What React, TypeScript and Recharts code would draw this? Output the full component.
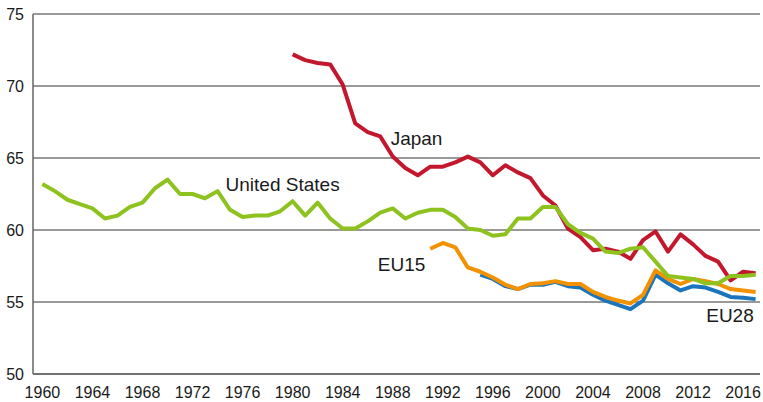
import React from 'react';
import { LineChart, Line, XAxis, YAxis, CartesianGrid, ReferenceDot } from 'recharts';

const years: number[] = [];
for (let y = 1960; y <= 2017; y++) years.push(y);

const usValues = [
  63.2, 62.7, 62.1, 61.8, 61.5, 60.8, 61.0, 61.6, 61.9, 62.9,
  63.5, 62.5, 62.5, 62.2, 62.7, 61.4, 60.9, 61.0, 61.0, 61.3,
  62.0, 61.0, 61.9, 60.8, 60.1, 60.1, 60.6, 61.2, 61.5, 60.8,
  61.2, 61.4, 61.4, 60.9, 60.1, 60.0, 59.6, 59.7, 60.8, 60.8,
  61.6, 61.6, 60.4, 59.8, 59.4, 58.5, 58.4, 58.7, 58.8, 57.8,
  56.8, 56.7, 56.6, 56.3, 56.3, 56.8, 56.8, 56.9,
];
const japanStart = 1980;
const japanValues = [
  72.2, 71.8, 71.6, 71.5, 70.1, 67.4, 66.8, 66.5, 65.1, 64.3,
  63.8, 64.4, 64.4, 64.7, 65.1, 64.7, 63.8, 64.5, 64.0, 63.6,
  62.4, 61.7, 60.1, 59.5, 58.6, 58.7, 58.5, 58.0, 59.3, 59.9,
  58.5, 59.7, 59.0, 58.2, 57.8, 56.5, 57.1, 57.0,
];
const eu15Start = 1991;
const eu15Values = [
  58.7, 59.1, 58.8, 57.4, 57.1, 56.7, 56.2, 55.9, 56.25, 56.3,
  56.45, 56.25, 56.25, 55.7, 55.35, 55.1, 54.9, 55.5, 57.2, 56.6,
  56.25, 56.6, 56.45, 56.25, 55.9, 55.8, 55.7,
];
const eu28Start = 1995;
const eu28Values = [
  56.9, 56.6, 56.1, 55.9, 56.2, 56.2, 56.4, 56.1, 56.0, 55.5,
  55.1, 54.8, 54.5, 55.1, 56.9, 56.3, 55.8, 56.1, 56.0, 55.7,
  55.35, 55.3, 55.2,
];

const xTicks = [1960, 1964, 1968, 1972, 1976, 1980, 1984, 1988, 1992, 1996, 2000, 2004, 2008, 2012, 2016];
const yTicks = [50, 55, 60, 65, 70, 75];

const seriesLabels = [
  { text: 'Japan', year: 1989.9, value: 66.37 },
  { text: 'United States', year: 1979.2, value: 63.17 },
  { text: 'EU15', year: 1988.7, value: 57.62 },
  { text: 'EU28', year: 2014.95, value: 54.08 },
];

const pick = (arr: number[], start: number, year: number) => {
  const i = year - start;
  return i >= 0 && i < arr.length ? arr[i] : undefined;
};

const data = years.map((year) => ({
  year,
  us: pick(usValues, 1960, year),
  japan: pick(japanValues, japanStart, year),
  eu15: pick(eu15Values, eu15Start, year),
  eu28: pick(eu28Values, eu28Start, year),
}));

const FONT = '"Liberation Sans", Arial, sans-serif';

export default function App() {
  return (
    <div style={{ position: 'absolute', left: 0, top: 0, width: 763, height: 402, background: '#fff' }}>
      <LineChart width={763} height={402} data={data} margin={{ top: 14, right: 3, bottom: 0, left: 0 }}>
        <CartesianGrid horizontal={true} vertical={false} stroke="#777" strokeWidth={1.5} />
        <XAxis
          dataKey="year"
          type="number"
          domain={[1959.25, 2017.35]}
          ticks={xTicks}
          allowDataOverflow
          height={28}
          tickSize={0}
          tickMargin={13}
          axisLine={{ stroke: '#666', strokeWidth: 1.5 }}
          tick={{ fill: '#1a1a1a', fontSize: 16, fontFamily: FONT }}
        />
        <YAxis
          type="number"
          domain={[50, 75]}
          ticks={yTicks}
          width={33}
          tickSize={0}
          tickMargin={9}
          axisLine={{ stroke: '#666', strokeWidth: 1.5 }}
          tick={{ fill: '#1a1a1a', fontSize: 16, fontFamily: FONT }}
        />
        <Line dataKey="eu28" stroke="#1B75BC" strokeWidth={4} dot={false} isAnimationActive={false} strokeLinejoin="round" />
        <Line dataKey="eu15" stroke="#F39200" strokeWidth={4} dot={false} isAnimationActive={false} strokeLinejoin="round" />
        <Line dataKey="japan" stroke="#C3172D" strokeWidth={4} dot={false} isAnimationActive={false} strokeLinejoin="round" />
        <Line dataKey="us" stroke="#8DC21F" strokeWidth={4} dot={false} isAnimationActive={false} strokeLinejoin="round" />
        {seriesLabels.map((l) => (
          <ReferenceDot
            key={l.text}
            x={l.year}
            y={l.value}
            r={0}
            fill="none"
            stroke="none"
            label={{ value: l.text, position: 'center', fill: '#1a1a1a', fontSize: 19, fontFamily: FONT }}
          />
        ))}
      </LineChart>
    </div>
  );
}
